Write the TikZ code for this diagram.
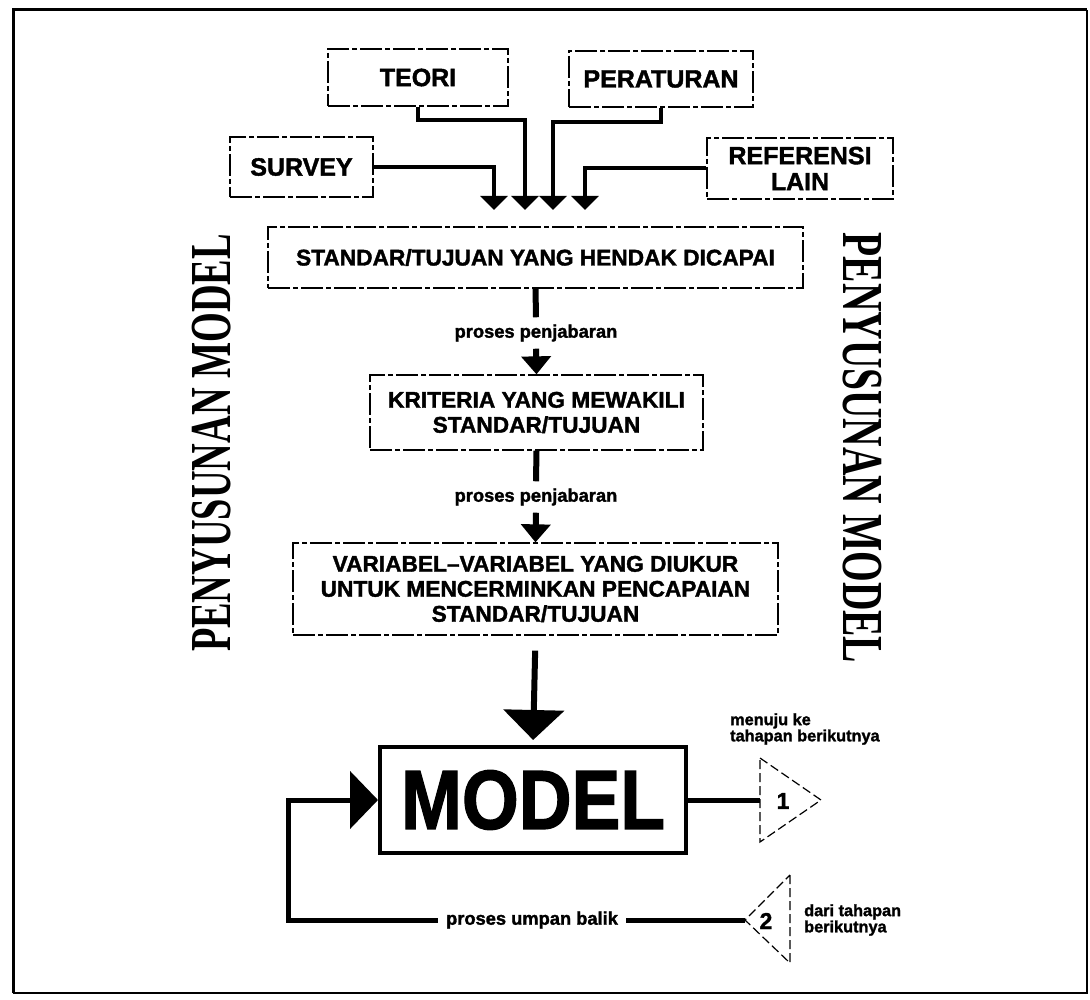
\documentclass[tikz,border=0pt]{standalone}
\usepackage{fontspec}
\usepackage{graphicx}
\setmainfont{Liberation Sans}[BoldFeatures={FakeBold=1.6}]
\newfontfamily\titleserif{Liberation Serif}
\usetikzlibrary{arrows.meta}
\begin{document}
\begin{tikzpicture}[x=1pt,y=-1pt,
  every node/.style={inner sep=0pt},
  dbox/.style={draw, line width=1.3pt, dash pattern=on 22pt off 3pt on 5pt off 3pt,
    align=center, font=\fontsize{22.7}{25}\selectfont\bfseries},
  srcbox/.style={dbox, font=\fontsize{25}{26}\selectfont\bfseries},
  feed/.style={line width=4pt, -{Triangle[width=27pt,length=14pt]}},
  stepline/.style={line width=6pt},
  steparrow/.style={line width=6pt, -{Triangle[width=29pt,length=18pt]}},
  steplabel/.style={font=\fontsize{18.3}{19}\selectfont\bfseries, inner ysep=7pt},
  tri/.style={draw, line width=1.2pt, dash pattern=on 9pt off 4pt},
  sidenote/.style={anchor=west, align=left, font=\fontsize{16.3}{15}\selectfont\bfseries},
  vtitle/.style={font=\titleserif\fontsize{58}{58}\selectfont\bfseries}
]
\useasboundingbox (0,0) rectangle (1090,1000);

% outer frame
\draw[line width=3pt] (13,993) -- (13,10) -- (1087,10);
\draw[line width=1.5pt] (1087,10) -- (1087,993) -- (13,993);

% sources
\node[srcbox, minimum width=180pt, minimum height=57pt] (teori) at (418,77.5) {TEORI};
\node[srcbox, minimum width=184pt, minimum height=56pt] (peraturan) at (661,79) {PERATURAN};
\node[srcbox, minimum width=143pt, minimum height=60pt] (survey) at (301.5,167) {SURVEY};
\node[srcbox, minimum width=186pt, minimum height=61pt] (referensi) at (800,168.5) {REFERENSI\\LAIN};

% arrow tips and bends of the four inputs
\coordinate (a1) at (494,210);
\coordinate (a2) at (525,210);
\coordinate (a3) at (553,210);
\coordinate (a4) at (585,210);
\coordinate (b2) at (525,120);
\coordinate (b3) at (553,122);

\draw[feed] (survey.east) -| (a1);
\draw[feed] (teori.south) |- (b2) -- (a2);
\draw[feed] (peraturan.south) |- (b3) -- (a3);
\draw[feed] (referensi.west) -| (a4);

% main chain
\node[dbox, minimum width=535pt, minimum height=61pt] (standar) at (535.5,257.5)
  {STANDAR/TUJUAN YANG HENDAK DICAPAI};
\node[steplabel] (lab1) at (536,333) {proses penjabaran};
\node[dbox, minimum width=333pt, minimum height=75pt] (kriteria) at (536.5,412.5)
  {KRITERIA YANG MEWAKILI\\STANDAR/TUJUAN};
\node[steplabel] (lab2) at (536,497) {proses penjabaran};
\node[dbox, minimum width=485pt, minimum height=92pt] (variabel) at (535.5,589)
  {VARIABEL–VARIABEL YANG DIUKUR\\UNTUK MENCERMINKAN PENCAPAIAN\\STANDAR/TUJUAN};

\draw[stepline] (standar.south) -- (lab1.north);
\draw[steparrow] (lab1.south) -- (kriteria.north);
\draw[stepline] (kriteria.south) -- (lab2.north);
\draw[steparrow] (lab2.south) -- (variabel.north);

% model
\node[draw, line width=4pt, minimum width=306pt, minimum height=106pt,
  font=\fontsize{84}{84}\selectfont\bfseries] (model) at (533,800)
  {\scalebox{0.87}[1]{MODEL}};
\draw[line width=6pt, shorten <=15pt, shorten >=5pt, -{Triangle[width=60pt,length=30pt]}]
  (variabel.south) -- (model.north);

% output to the next stage
\coordinate (t1) at (760,800);
\draw[line width=5pt] (model.east) -- (t1);
\draw[tri] (760,758) -- (821,800) -- (760,842) -- cycle;
\node[font=\fontsize{23}{23}\selectfont\bfseries] (one) at (783,801) {1};
\node[sidenote] (nextnote) at (730,729) {menuju ke\\tahapan berikutnya};

% feedback from the next stage
\coordinate (t2) at (745,920);
\coordinate (c1) at (288,920);
\coordinate (c2) at (288,800);
\draw[tri] (790,875) -- (790,963) -- (t2) -- cycle;
\node[font=\fontsize{23}{23}\selectfont\bfseries] (two) at (766,921) {2};
\node[sidenote] (prevnote) at (804,920) {dari tahapan\\berikutnya};
\draw[line width=5pt, line join=miter, -{Triangle[width=57pt,length=28pt]}]
  (t2) -- node[pos=0.466, fill=white, inner xsep=8pt, inner ysep=4pt,
     font=\fontsize{18.3}{19}\selectfont\bfseries] (lab3) {proses umpan balik}
  (c1) -- (c2) -- (model.west);

% side titles
\node[vtitle, rotate=90] (titleL) at (212,443) {\scalebox{0.66}[1]{PENYUSUNAN MODEL}};
\node[vtitle, rotate=-90] (titleR) at (862,448) {\scalebox{0.68}[1]{PENYUSUNAN MODEL}};
\end{tikzpicture}
\end{document}
